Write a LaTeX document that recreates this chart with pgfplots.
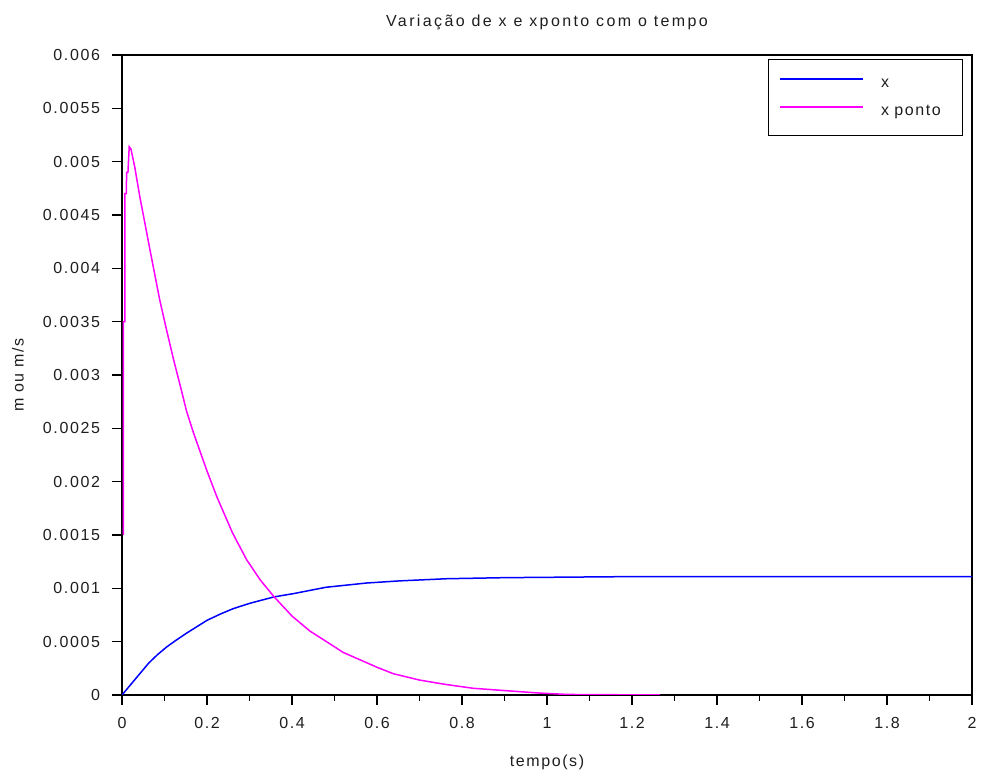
\documentclass[border=0pt]{standalone}
\usepackage{fontspec}
\setmainfont{Liberation Sans}[LetterSpace=10]
\newfontfamily\titlefont{Liberation Sans}[LetterSpace=15]
\usepackage{pgfplots}
\pgfplotsset{compat=1.18}

\definecolor{sciblue}{RGB}{0,0,255}
\definecolor{scimag}{RGB}{255,0,255}
\definecolor{txt}{RGB}{30,30,30}

\begin{document}
\begin{tikzpicture}
\useasboundingbox (-61pt,-40.5pt) rectangle (429.5pt,347.5pt);
\begin{axis}[
    scale only axis,
    width=425pt, height=320pt,
    xmin=0, xmax=2, ymin=0, ymax=0.006,
    xtick={0,0.2,...,2.01},
    ytick={0,0.0005,...,0.00601},
    minor x tick num=1,
    xtick pos=lower, ytick pos=left,
    tick align=outside,
    major tick length=5pt, minor tick length=3pt,
    axis line style={line width=0.75pt},
    every tick/.style={line width=0.75pt, black},
    scaled y ticks=false,
    /pgf/number format/assume math mode=true,
    yticklabel style={/pgf/number format/fixed, /pgf/number format/precision=4, xshift=-2.5pt},
    xticklabel style={yshift=-2.5pt},
    tick label style={font=\fontsize{8}{9.6}\selectfont, text=txt},
    every axis title shift=0pt,
    title={Variação de x e xponto com o tempo},
    title style={at={(axis description cs:0.5,1.0516)}, anchor=center, yshift=0pt, font=\titlefont\fontsize{8}{9.6}\selectfont, text=txt},
    xlabel={tempo(s)},
    xlabel style={at={(axis description cs:0.5,-0.1047)}, anchor=center, font=\fontsize{8}{9.6}\selectfont, text=txt},
    ylabel={m ou m/s},
    ylabel style={at={(axis description cs:-0.1224,0.5)}, anchor=center, font=\fontsize{8}{9.6}\selectfont, text=txt},
    legend style={at={(0.9894,0.99375)}, anchor=north east,
        inner xsep=5.5pt, inner ysep=5pt, row sep=0pt,
        font=\fontsize{8}{9.6}\selectfont, text=txt,
        nodes={inner sep=0pt, text height=9.1pt, text depth=4.9pt},
        cells={anchor=west},
        /tikz/every odd column/.append style={column sep=8.75pt},
        /tikz/every even column/.append style={text width=35.25pt}},
]
\addplot[sciblue, line width=0.75pt,
    legend image code/.code={\draw[sciblue, line width=0.75pt] (0pt,2.1pt) -- (41.5pt,2.1pt);}] coordinates {
(0,0) (0.021,0.0001) (0.042,0.0002) (0.063,0.0003) (0.084,0.00038) (0.105,0.00045)
(0.126,0.00051) (0.152,0.00058) (0.176,0.00064) (0.2,0.0007) (0.232,0.00076)
(0.262,0.00081) (0.301,0.00086) (0.358,0.00092) (0.403,0.00095) (0.48,0.00101)
(0.576,0.00105) (0.654,0.00107) (0.764,0.00109) (0.9,0.0011) (1.2,0.00111) (2,0.00111)
};
\addlegendentry{x}
\addplot[scimag, line width=0.75pt,
    legend image code/.code={\draw[scimag, line width=0.75pt] (0pt,2.1pt) -- (41.5pt,2.1pt);}] coordinates {
(0.003,0.0015) (0.003,0.0035) (0.007,0.0035) (0.007,0.0047) (0.010,0.0047)
(0.011,0.0049) (0.014,0.0049) (0.017,0.00514) (0.021,0.00512) (0.03,0.00495)
(0.042,0.00467) (0.066,0.00417) (0.089,0.0037) (0.105,0.00342) (0.121,0.00315)
(0.137,0.0029) (0.152,0.00266) (0.168,0.00246) (0.184,0.00228) (0.2,0.0021)
(0.223,0.00186) (0.26,0.00152) (0.293,0.00127) (0.325,0.00108)
(0.358,0.00092) (0.40,0.00074) (0.442,0.0006) (0.489,0.00048) (0.52,0.0004) (0.56,0.00033)
(0.60,0.00026) (0.638,0.0002) (0.70,0.00014) (0.76,0.0001) (0.826,0.000063) (0.905,0.00004)
(0.983,0.000018) (1.05,0.000005) (1.266,0.0)
};
\addlegendentry{x ponto}
\end{axis}
\end{tikzpicture}
\end{document}
